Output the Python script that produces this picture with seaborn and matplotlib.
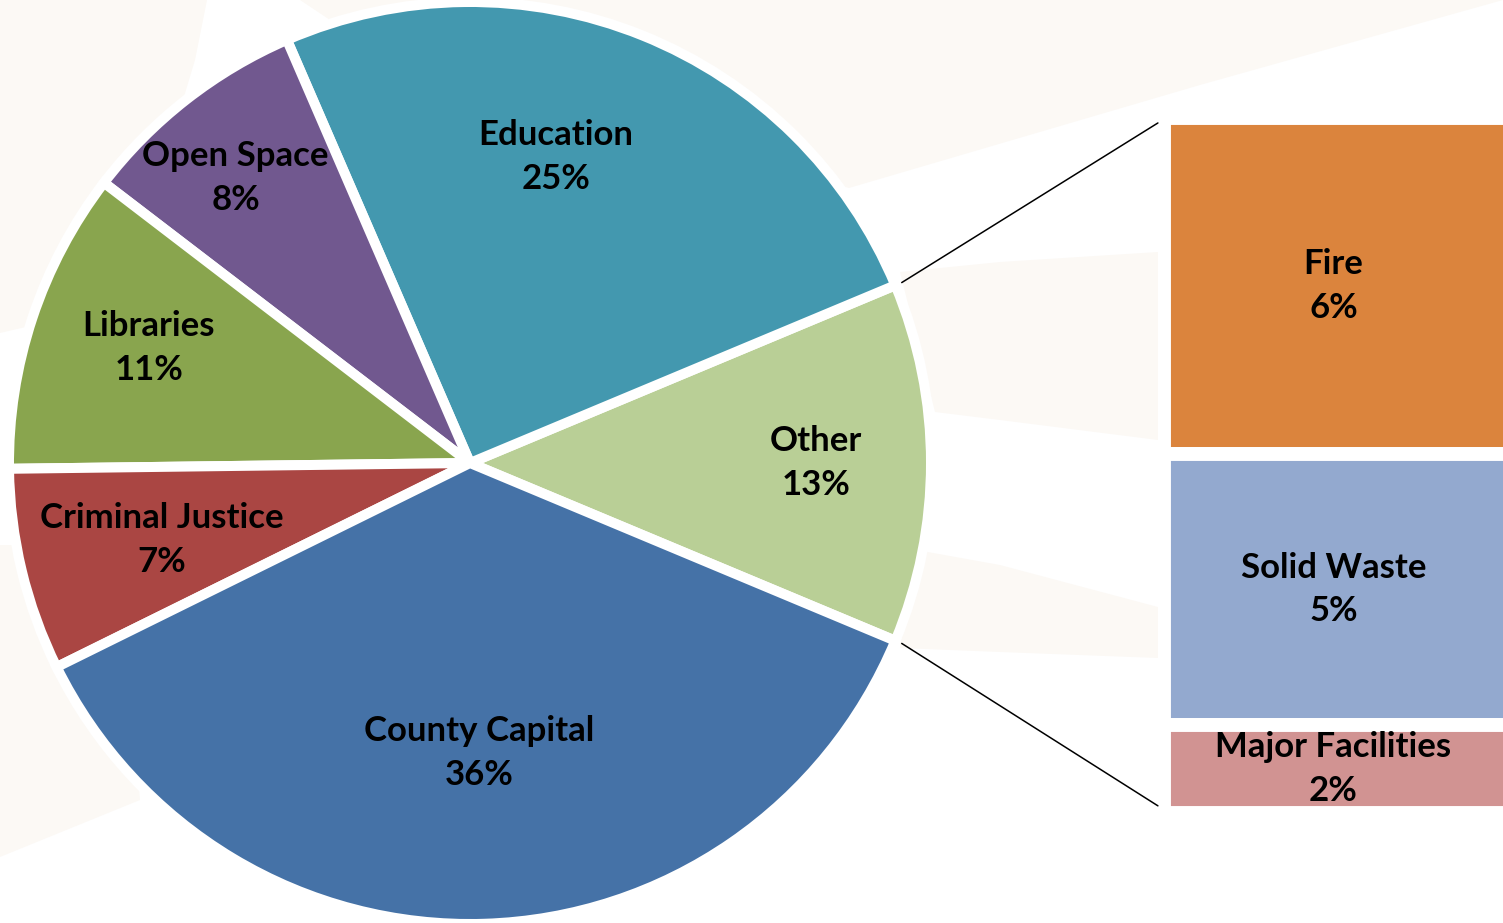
import matplotlib
matplotlib.use("Agg")
import matplotlib.pyplot as plt
from matplotlib.patches import ConnectionPatch, Polygon
import numpy as np
import seaborn as sns

# main pie, listed counter-clockwise starting from the "Other" slice
pie_labels = ["Other", "Education", "Open Space", "Libraries", "Criminal Justice", "County Capital"]
pie_values = [12.6, 25.2, 8.1, 10.6, 7.1, 36.4]
pie_colors = ["#B9CF96", "#4398AF", "#71588F", "#89A54E", "#AA4643", "#4572A7"]

# breakdown of "Other"
bar_labels = ["Fire", "Solid Waste", "Major Facilities"]
bar_values = [6.1, 4.9, 1.6]
bar_colors = ["#DB843D", "#93A9CF", "#D19392"]

sns.set_theme(style="white")
plt.rcParams["font.family"] = ["Lato", "DejaVu Sans"]

W, H = 1503, 923
fig = plt.figure(figsize=(W / 100, H / 100), dpi=100)

# faint decorative swooshes in the background (pixel coords)
bg = fig.add_axes([0, 0, 1, 1], zorder=0)
bg.set_xlim(0, W)
bg.set_ylim(H, 0)
bg.axis("off")
swooshes = [
    [(0, 0), (207, 0), (195, 60), (180, 110), (120, 250), (30, 326), (0, 333)],
    [(0, 545), (120, 545), (140, 800), (0, 857)],
    [(300, 0), (1503, 0), (1503, 0), (1200, 85), (849, 188), (600, 120), (330, 20)],
    [(900, 272), (1000, 262), (1158, 252), (1158, 440), (1000, 420), (935, 412)],
    [(900, 547), (1000, 565), (1158, 607), (1158, 658), (1000, 652), (900, 648)],
]
for pts in swooshes:
    bg.add_patch(Polygon(pts, closed=True, facecolor="#FCF9F5", edgecolor="none"))

# pie: radius 1 -> 461 px, centre at (470, 463) from top
R = 461
cx, cy = 470, 463
ext = 1.1
side = 2 * ext * R
ax = fig.add_axes([(cx - ext * R) / W, (H - cy - ext * R) / H, side / W, side / H], zorder=1)
wedges, _ = ax.pie(
    pie_values, colors=pie_colors, radius=1,
    startangle=-pie_values[0] / sum(pie_values) * 180, counterclock=True,
    wedgeprops=dict(edgecolor="white", linewidth=7.2),
)
ax.set_xlim(-ext, ext)
ax.set_ylim(-ext, ext)

label_r = [0.75, 0.69, 0.80, 0.74, 0.69, 0.63]
label_turn = [0, 6.3, 1.5, -1.3, 0.5, 0]
for w, name, val, r, turn in zip(wedges, pie_labels, pie_values, label_r, label_turn):
    mid = np.deg2rad((w.theta1 + w.theta2) / 2 + turn)
    ax.text(r * np.cos(mid), r * np.sin(mid), f"{name}\n{val:.0f}%",
            ha="center", va="center", fontsize=25, fontweight="bold",
            linespacing=1.45, color="black")

# stacked bar for the "Other" breakdown
top_px, bot_px, left_px = 118, 813, 1164
bax = fig.add_axes([left_px / W, (H - bot_px) / H, (W - left_px) / W, (bot_px - top_px) / H], zorder=1)
total = sum(bar_values)
bottoms = np.concatenate([[0], np.cumsum(bar_values)[:-1]])
bax.bar([0] * 3, bar_values, bottom=bottoms, width=1.3, align="edge",
        color=bar_colors, edgecolor="white", linewidth=10)
bax.set_xlim(0, 1)
bax.set_ylim(total, 0)
bax.axis("off")
for name, b, v in zip(bar_labels, bottoms, bar_values):
    bax.text(0.5, b + v / 2, f"{name}\n{v:.0f}%", ha="center", va="center",
             fontsize=25, fontweight="bold", linespacing=1.45, color="black")

# connector lines from the "Other" slice to the bar
half = np.deg2rad(pie_values[0] / sum(pie_values) * 180)
for sgn, yb in [(1, 0.09), (-1, total - 0.13)]:
    con = ConnectionPatch(xyA=(1.015 * np.cos(half), sgn * 1.015 * np.sin(half)), coordsA=ax.transData,
                          xyB=(-0.018, yb), coordsB=bax.transData, color="black", linewidth=1.1)
    fig.add_artist(con)

fig.savefig("out.png", dpi=100, facecolor="white")
